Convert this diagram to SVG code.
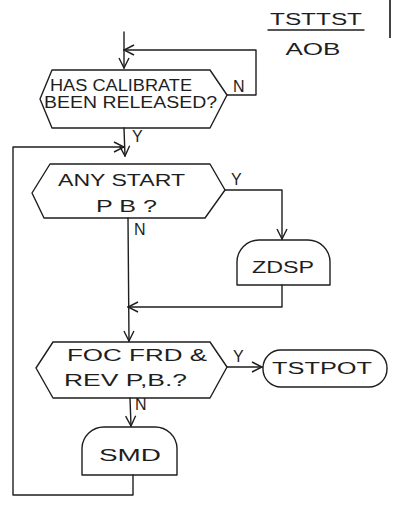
<svg xmlns="http://www.w3.org/2000/svg" width="393" height="508" viewBox="0 0 393 508">
<style>
.s{fill:none;stroke:#1e1e1e;stroke-width:1.4;stroke-linejoin:round;stroke-linecap:round}
.t{font-family:"Liberation Sans",Arial,sans-serif;fill:#1e1e1e;font-size:16px}
.m{text-anchor:middle}
</style>
<defs>
<marker id="a" viewBox="0 0 12 12" refX="11" refY="6" markerWidth="12" markerHeight="12" markerUnits="userSpaceOnUse" orient="auto">
<path d="M1,1 L11,6 L1,11" fill="none" stroke="#1e1e1e" stroke-width="1.4"/>
</marker>
</defs>
<rect width="393" height="508" fill="#fff"/>
<line x1="390" y1="0" x2="390" y2="38" stroke="#444" stroke-width="2"/>
<g id="title">
<text class="t m" x="316" y="25" font-size="14" textLength="92" lengthAdjust="spacingAndGlyphs">TSTTST</text>
<line class="s" x1="268" y1="30" x2="364" y2="30"/>
<text class="t m" x="313" y="55" font-size="18" textLength="55" lengthAdjust="spacingAndGlyphs">AOB</text>
</g>
<g id="connectors">
<path class="s" d="M124,32 L124,68" marker-end="url(#a)"/>
<path class="s" d="M227,95 L256,95 L256,50 L124,50" marker-end="url(#a)"/>
<path class="s" d="M124,128 L125,156" marker-end="url(#a)"/>
<path class="s" d="M133,475 L133,495 L13,495 L13,147 L124,147" marker-end="url(#a)"/>
<path class="s" d="M225,190 L282,190 L282,239" marker-end="url(#a)"/>
<path class="s" d="M282,285 L282,307 L128,307" marker-end="url(#a)"/>
<path class="s" d="M128,218 L129,341" marker-end="url(#a)"/>
<path class="s" d="M227,367 L262,367" marker-end="url(#a)"/>
<path class="s" d="M130,398 L131,426" marker-end="url(#a)"/>
<text class="t" x="233" y="92">N</text>
<text class="t" x="132" y="142">Y</text>
<text class="t" x="231" y="185">Y</text>
<text class="t" x="134" y="235">N</text>
<text class="t" x="233" y="362">Y</text>
<text class="t" x="135" y="410" font-size="13">N</text>
</g>
<g id="hex1">
<path class="s" d="M40,99 L52,70 L210,70 L227,95 L210,128 L52,128 Z"/>
<text class="t" x="50" y="91" textLength="142" lengthAdjust="spacingAndGlyphs">HAS CALIBRATE</text>
<text class="t" x="44" y="108" textLength="173" lengthAdjust="spacingAndGlyphs">BEEN RELEASED?</text>
</g>
<g id="hex2">
<path class="s" d="M32,193 L50,164 L210,164 L225,190 L205,218 L44,218 Z"/>
<text class="t" x="58" y="186" textLength="127" lengthAdjust="spacingAndGlyphs">ANY START</text>
<text class="t" x="96" y="212" textLength="61" lengthAdjust="spacingAndGlyphs">P B ?</text>
</g>
<g id="zdsp">
<path class="s" d="M237,285 L237,262 A22,22 0 0 1 259,240 L308,240 A22,22 0 0 1 330,262 L330,285 Z"/>
<text class="t m" x="283" y="273" textLength="62" lengthAdjust="spacingAndGlyphs">ZDSP</text>
</g>
<g id="hex3">
<path class="s" d="M36,368 L53,342 L210,342 L227,367 L210,398 L53,398 Z"/>
<text class="t" x="67" y="361" textLength="140" lengthAdjust="spacingAndGlyphs">FOC FRD &amp;</text>
<text class="t" x="64" y="386" textLength="123" lengthAdjust="spacingAndGlyphs">REV P,B.?</text>
</g>
<g id="tstpot">
<rect class="s" x="263" y="350" width="124" height="37" rx="18" ry="18"/>
<text class="t m" x="322" y="374" textLength="100" lengthAdjust="spacingAndGlyphs">TSTPOT</text>
</g>
<g id="smd">
<path class="s" d="M82,475 L82,448 A22,22 0 0 1 104,427 L155,427 A22,22 0 0 1 177,448 L177,475 Z"/>
<text class="t m" x="130" y="461" textLength="62" lengthAdjust="spacingAndGlyphs">SMD</text>
</g>
</svg>
